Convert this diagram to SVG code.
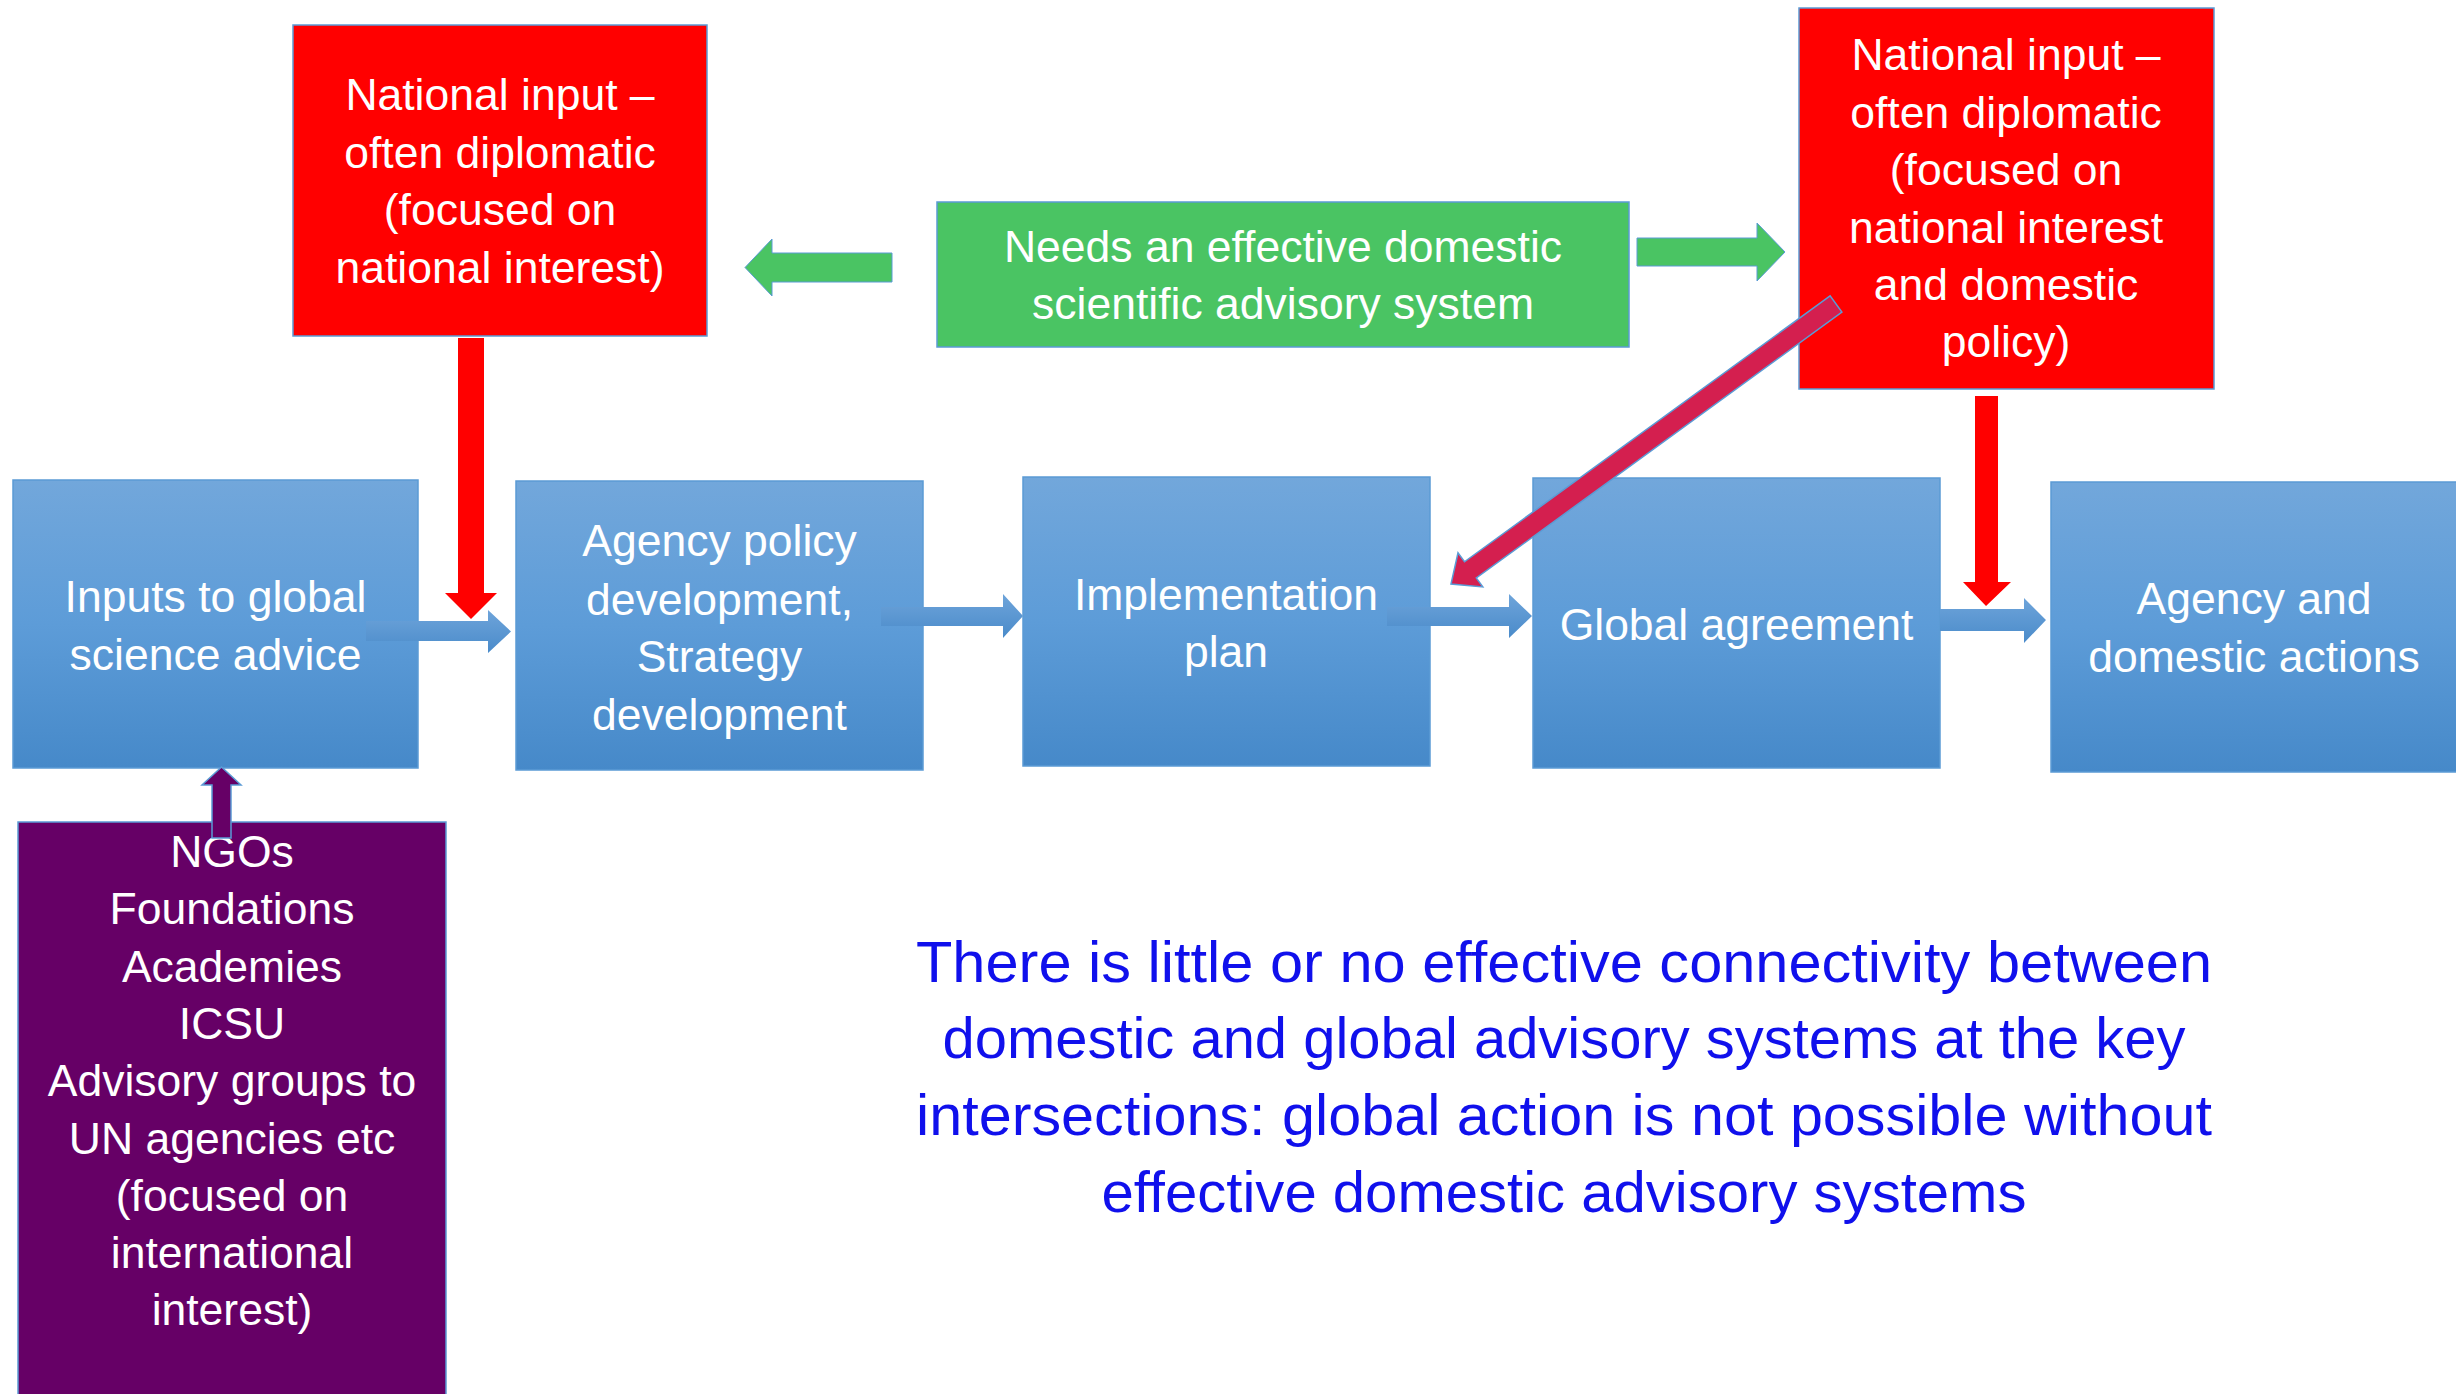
<svg xmlns="http://www.w3.org/2000/svg" width="2456" height="1394" viewBox="0 0 2456 1394">
<defs>
<linearGradient id="gBlue" x1="0" y1="0" x2="0" y2="1">
<stop offset="0" stop-color="#72a7db"/>
<stop offset="0.5" stop-color="#5d9cd8"/>
<stop offset="1" stop-color="#4689c9"/>
</linearGradient>
<linearGradient id="gArrow" x1="0" y1="0" x2="0" y2="1">
<stop offset="0" stop-color="#6ea4da"/>
<stop offset="1" stop-color="#4a8bca"/>
</linearGradient>
</defs>
<style>
.box{fill:url(#gBlue);stroke:#5b9bd5;stroke-width:1.5}
.red{fill:#ff0000;stroke:#5b9bd5;stroke-width:1.5}
.green{fill:#4ac463;stroke:#5b9bd5;stroke-width:1.5}
.purple{fill:#660066;stroke:#5b9bd5;stroke-width:1.5}
.t{font-family:"Liberation Sans",Arial,sans-serif;font-size:44.5px;fill:#ffffff;text-anchor:middle}
.big{font-family:"Liberation Sans",Arial,sans-serif;font-size:58px;fill:#1010ec;text-anchor:middle}
.barrow{fill:url(#gArrow);stroke:none}
.rarrow{fill:#ff0000;stroke:none}
.garrow{fill:#4ac463;stroke:#5b9bd5;stroke-width:1}
.parrow{fill:#660066;stroke:#5b9bd5;stroke-width:1.5}
.carrow{fill:#d41f4f;stroke:#5b9bd5;stroke-width:1.5}
</style>
<rect width="2456" height="1394" fill="#ffffff"/>

<g id="red1">
<rect class="red" x="293" y="25" width="414" height="311"/>
<text class="t" x="500" y="110">National input –</text>
<text class="t" x="500" y="167.5">often diplomatic</text>
<text class="t" x="500" y="225">(focused on</text>
<text class="t" x="500" y="282.5">national interest)</text>
</g>

<g id="green">
<rect class="green" x="937" y="202" width="692" height="145"/>
<text class="t" x="1283" y="262">Needs an effective domestic</text>
<text class="t" x="1283" y="319">scientific advisory system</text>
</g>

<g id="red2">
<rect class="red" x="1799" y="8" width="415" height="381"/>
<text class="t" x="2006" y="70">National input –</text>
<text class="t" x="2006" y="128">often diplomatic</text>
<text class="t" x="2006" y="185">(focused on</text>
<text class="t" x="2006" y="243">national interest</text>
<text class="t" x="2006" y="300">and domestic</text>
<text class="t" x="2006" y="357">policy)</text>
</g>

<g id="inputs">
<rect class="box" x="13" y="480" width="405" height="288"/>
<text class="t" x="215.5" y="612">Inputs to global</text>
<text class="t" x="215.5" y="670">science advice</text>
</g>

<g id="agency-policy">
<rect class="box" x="516" y="481" width="407" height="289"/>
<text class="t" x="719.5" y="556">Agency policy</text>
<text class="t" x="719.5" y="615">development,</text>
<text class="t" x="719.5" y="672">Strategy</text>
<text class="t" x="719.5" y="730">development</text>
</g>

<g id="implementation">
<rect class="box" x="1023" y="477" width="407" height="289"/>
<text class="t" x="1226" y="610">Implementation</text>
<text class="t" x="1226" y="667">plan</text>
</g>

<g id="global-agreement">
<rect class="box" x="1533" y="478" width="407" height="290"/>
<text class="t" x="1736.5" y="640">Global agreement</text>
</g>

<g id="agency-domestic">
<rect class="box" x="2051" y="482" width="410" height="290"/>
<text class="t" x="2254" y="614">Agency and</text>
<text class="t" x="2254" y="672">domestic actions</text>
</g>

<g id="ngos">
<rect class="purple" x="18" y="822" width="428" height="580"/>
<text class="t" x="232" y="867">NGOs</text>
<text class="t" x="232" y="924">Foundations</text>
<text class="t" x="232" y="981.5">Academies</text>
<text class="t" x="232" y="1039">ICSU</text>
<text class="t" x="232" y="1096">Advisory groups to</text>
<text class="t" x="232" y="1153.5">UN agencies etc</text>
<text class="t" x="232" y="1211">(focused on</text>
<text class="t" x="232" y="1268">international</text>
<text class="t" x="232" y="1325">interest)</text>
</g>

<g id="note">
<text class="big" x="1564" y="982" textLength="1296" lengthAdjust="spacingAndGlyphs">There is little or no effective connectivity between</text>
<text class="big" x="1564" y="1058" textLength="1243" lengthAdjust="spacingAndGlyphs">domestic and global advisory systems at the key</text>
<text class="big" x="1564" y="1135" textLength="1296" lengthAdjust="spacingAndGlyphs">intersections: global action is not possible without</text>
<text class="big" x="1564" y="1212" textLength="925" lengthAdjust="spacingAndGlyphs">effective domestic advisory systems</text>
</g>

<g id="connectors">
<polygon class="barrow" points="366,621 488,621 488,610 511,631.5 488,653 488,641 366,641"/>
<polygon class="barrow" points="881,607 1003,607 1003,594 1023,616 1003,638 1003,626 881,626"/>
<polygon class="barrow" points="1387,607 1509,607 1509,594 1532,616 1509,638 1509,626 1387,626"/>
<polygon class="barrow" points="1940,609 2024,609 2024,598 2046,620 2024,643 2024,631 1940,631"/>
<polygon class="garrow" points="892,253 772,253 772,239 745,267.5 772,296 772,282 892,282"/>
<polygon class="garrow" points="1637,238 1757,238 1757,223 1785,252 1757,281 1757,266 1637,266"/>
<polygon class="rarrow" points="458,338 484,338 484,593 497,593 471,619 445,593 458,593"/>
<polygon class="rarrow" points="1975,396 1998,396 1998,582 2011,582 1986,606 1963,582 1975,582"/>
<polygon class="parrow" points="212,838 212,785 202,785 221.5,767 241,785 231,785 231,838"/>
<polygon class="carrow" points="1830.1,295.9 1464.5,561.8 1458,552.9 1451,584 1482.8,586.9 1476.3,578 1841.9,312.1"/>
</g>
</svg>
